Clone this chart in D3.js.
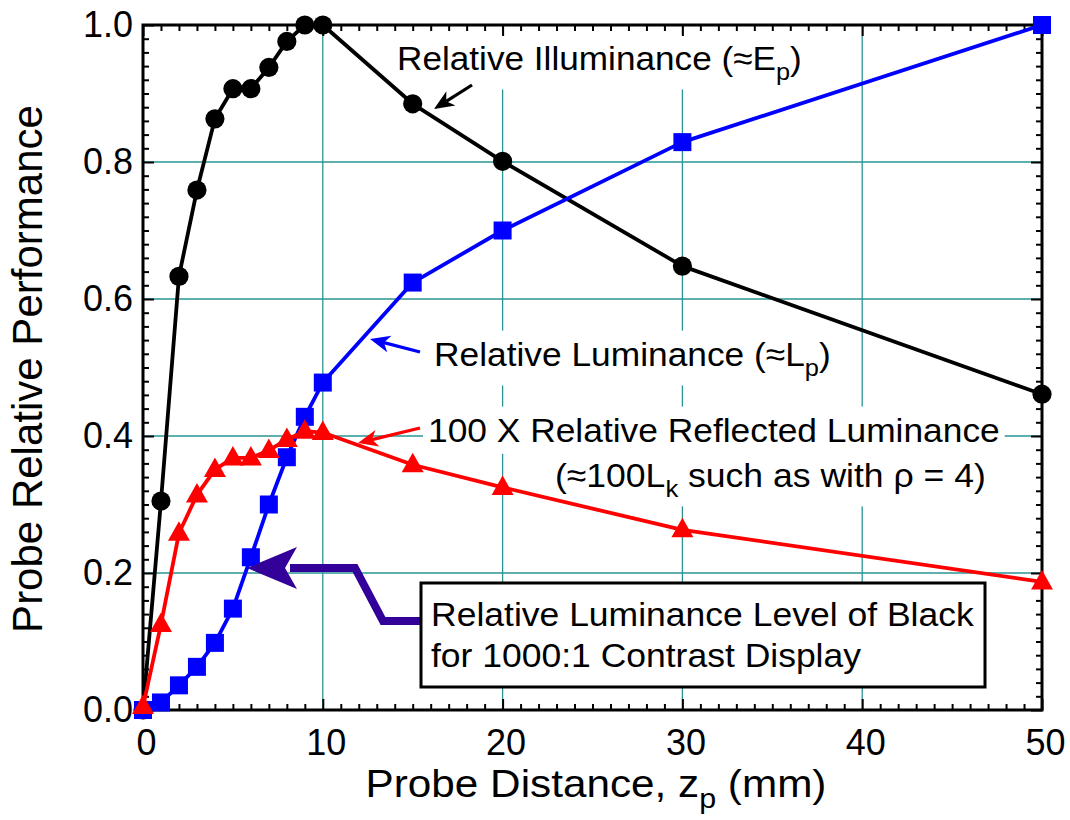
<!DOCTYPE html>
<html><head><meta charset="utf-8">
<script src="https://cdn.jsdelivr.net/npm/d3@7"></script>
<style>body{margin:0;background:#fff}</style>
</head><body>
<svg id="c" width="1070" height="820" xmlns="http://www.w3.org/2000/svg"></svg>
<script>
// ---------- data ----------
const distances   = [0, 1, 2, 3, 4, 5, 6, 7, 8, 9, 10, 15, 20, 30, 50];
const illuminance = [0, 0.305, 0.633, 0.759, 0.863, 0.907, 0.907, 0.938, 0.976, 1.0, 1.0, 0.885, 0.801, 0.648, 0.461];
const luminance   = [0, 0.011, 0.036, 0.063, 0.098, 0.148, 0.223, 0.300, 0.369, 0.428, 0.478, 0.624, 0.700, 0.829, 1.0];
const reflected   = [0.005, 0.125, 0.258, 0.314, 0.351, 0.368, 0.368, 0.379, 0.395, 0.407, 0.405, 0.358, 0.325, 0.263, 0.187];
const xTicks      = [0, 10, 20, 30, 40, 50];
const yTicks      = [0, 0.2, 0.4, 0.6, 0.8, 1.0];
const xGridVals   = [10, 20, 30, 40];
const yGridVals   = [0.2, 0.4, 0.6, 0.8];
const xMinor      = d3.range(0, 51).filter(d => d % 10 !== 0);
const yMinor      = d3.range(0, 51).filter(d => d % 10 !== 0).map(d => d / 50);

// ---------- setup ----------
const FONT = "'Liberation Sans', Arial, Helvetica, sans-serif";
const svg = d3.select('#c');
const L = 143, R = 1042, T = 25, B = 710;
const x = d3.scaleLinear().domain([0, 50]).range([L, R]);
const y = d3.scaleLinear().domain([0, 1]).range([B, T]);

const layerGrid = svg.append('g');
const layerBg = svg.append('g');
const layerAxes = svg.append('g');
const layerData = svg.append('g');
const layerText = svg.append('g');
const layerAnno = svg.append('g');

// grid
const gridColor = '#2a9494';
layerGrid.selectAll('.gx').data(xGridVals).join('line')
  .attr('x1', d => x(d)).attr('x2', d => x(d)).attr('y1', T).attr('y2', B)
  .attr('stroke', gridColor).attr('stroke-width', 1.3);
layerGrid.selectAll('.gy').data(yGridVals).join('line')
  .attr('y1', d => y(d)).attr('y2', d => y(d)).attr('x1', L).attr('x2', R)
  .attr('stroke', gridColor).attr('stroke-width', 1.3);

// text helper (fits to target width)
function addText(g, parts, o) {
  const t = g.append('text')
    .attr('font-family', FONT).attr('font-size', o.size).attr('fill', '#000')
    .attr('text-anchor', o.anchor || 'start');
  let pendingDy = 0;
  parts.forEach(p => {
    if (typeof p === 'string') {
      const ts = t.append('tspan').text(p);
      if (pendingDy) { ts.attr('dy', pendingDy); pendingDy = 0; }
    } else {
      t.append('tspan').attr('font-size', o.size * 0.72).attr('dy', o.size * 0.28).text(p.sub);
      pendingDy = -o.size * 0.28;
    }
  });
  const len = t.node().getComputedTextLength();
  const sx = o.width ? o.width / len : 1;
  const rot = o.rotate ? ` rotate(${o.rotate})` : '';
  t.attr('transform', `translate(${o.x},${o.y})${rot} scale(${sx},1)`);
  if (o.bg) {
    const bb = t.node().getBBox();
    const pad = o.pad || 5;
    layerBg.append('rect')
      .attr('x', o.x + bb.x * sx - pad).attr('y', o.y + bb.y - pad)
      .attr('width', bb.width * sx + 2 * pad).attr('height', bb.height + 2 * pad)
      .attr('fill', '#fff');
  }
  return t;
}

// ---------- axes ----------
function styleAxis(g) {
  g.select('.domain').remove();
  g.selectAll('line').attr('stroke', '#000').attr('stroke-width', 2);
  g.selectAll('text').attr('font-family', FONT).attr('fill', '#000');
}
const MAJ = 11, MIN = 6;
layerAxes.append('g').attr('transform', `translate(0,${B})`)
  .call(d3.axisBottom(x).tickValues(xTicks).tickSize(-MAJ).tickPadding(19).tickFormat(d3.format('d')))
  .call(styleAxis).call(g => g.selectAll('text').attr('font-size', 36).attr('dx', 3));
layerAxes.append('g').attr('transform', `translate(0,${B})`)
  .call(d3.axisBottom(x).tickValues(xMinor).tickSize(-MIN).tickFormat(''))
  .call(styleAxis);
layerAxes.append('g').attr('transform', `translate(0,${T})`)
  .call(d3.axisTop(x).tickValues(xTicks).tickSize(-MAJ).tickFormat(''))
  .call(styleAxis);
layerAxes.append('g').attr('transform', `translate(0,${T})`)
  .call(d3.axisTop(x).tickValues(xMinor).tickSize(-MIN).tickFormat(''))
  .call(styleAxis);
layerAxes.append('g').attr('transform', `translate(${L},0)`)
  .call(d3.axisLeft(y).tickValues(yTicks).tickSize(-MAJ).tickPadding(10).tickFormat(d3.format('.1f')))
  .call(styleAxis).call(g => g.selectAll('text').attr('font-size', 36));
layerAxes.append('g').attr('transform', `translate(${L},0)`)
  .call(d3.axisLeft(y).tickValues(yMinor).tickSize(-MIN).tickFormat(''))
  .call(styleAxis);
layerAxes.append('g').attr('transform', `translate(${R},0)`)
  .call(d3.axisRight(y).tickValues(yTicks).tickSize(-MAJ).tickFormat(''))
  .call(styleAxis);
layerAxes.append('g').attr('transform', `translate(${R},0)`)
  .call(d3.axisRight(y).tickValues(yMinor).tickSize(-MIN).tickFormat(''))
  .call(styleAxis);
layerAxes.append('rect').attr('x', L).attr('y', T).attr('width', R - L).attr('height', B - T)
  .attr('fill', 'none').attr('stroke', '#000').attr('stroke-width', 3);

// axis titles
addText(layerText, ['Probe Distance, z', {sub: 'p'}, ' (mm)'], {x: 596, y: 797, size: 38, width: 461, anchor: 'middle'});
addText(layerText, ['Probe Relative Performance'], {x: 42, y: 369, size: 42, width: 528, anchor: 'middle', rotate: -90});

// ---------- series ----------
const line = d3.line().x(d => x(d[0])).y(d => y(d[1]));
function series(vals, color) {
  const pts = distances.map((d, i) => [d, vals[i]]);
  layerData.append('path').datum(pts).attr('d', line)
    .attr('fill', 'none').attr('stroke', color).attr('stroke-width', 3.8).attr('stroke-linejoin', 'round');
  return pts;
}
const pI = series(illuminance, '#000');
layerData.selectAll('.ci').data(pI).join('circle')
  .attr('cx', d => x(d[0])).attr('cy', d => y(d[1])).attr('r', 9.6).attr('fill', '#000');
const pL = series(luminance, '#0000ff');
layerData.selectAll('.sq').data(pL).join('rect')
  .attr('x', d => x(d[0]) - 9).attr('y', d => y(d[1]) - 9).attr('width', 18).attr('height', 18).attr('fill', '#0000ff');
const pR = series(reflected, '#ff0000');
layerData.selectAll('.tr').data(pR).join('path')
  .attr('d', d => { const cx = x(d[0]), cy = y(d[1]); return `M${cx},${cy - 12}L${cx + 11},${cy + 7.5}L${cx - 11},${cy + 7.5}Z`; })
  .attr('fill', '#ff0000');

// ---------- annotations ----------
function arrow(x1, y1, x2, y2, color, w, hl, hw) {
  const a = Math.atan2(y2 - y1, x2 - x1);
  const ux = Math.cos(a), uy = Math.sin(a), px = -uy, py = ux;
  const bx = x2 - ux * hl, by = y2 - uy * hl;
  const nx = x2 - ux * hl * 0.72, ny = y2 - uy * hl * 0.72;
  layerAnno.append('line').attr('x1', x1).attr('y1', y1).attr('x2', nx).attr('y2', ny)
    .attr('stroke', color).attr('stroke-width', w);
  layerAnno.append('path')
    .attr('d', `M${x2},${y2}L${bx + px * hw},${by + py * hw}L${nx},${ny}L${bx - px * hw},${by - py * hw}Z`)
    .attr('fill', color);
}
addText(layerText, ['Relative Illuminance (\u2248E', {sub: 'p'}, ')'], {x: 397, y: 70, size: 34, width: 405, bg: true});
arrow(472, 85, 434, 109, '#000', 3.2, 20, 8.5);
addText(layerText, ['Relative Luminance (\u2248L', {sub: 'p'}, ')'], {x: 434, y: 366, size: 34, width: 397, bg: true});
arrow(420, 352, 370, 339, '#0000ff', 3.2, 20, 8.5);
addText(layerText, ['100 X Relative Reflected Luminance'], {x: 428, y: 442, size: 34, width: 572, bg: true});
addText(layerText, ['(\u2248100L', {sub: 'k'}, ' such as with \u03c1 = 4)'], {x: 555, y: 487, size: 34, width: 431, bg: true});
arrow(420, 428, 358, 443, '#ff0000', 3.2, 20, 8.5);

// purple arrow
const purple = '#330099';
layerAnno.append('path').attr('d', 'M422,621L383,621L355,568L290,568')
  .attr('fill', 'none').attr('stroke', purple).attr('stroke-width', 8).attr('stroke-linejoin', 'miter');
layerAnno.append('path').attr('d', 'M247,568L297,547L285,568L297,589Z').attr('fill', purple);

// box
layerAnno.append('rect').attr('x', 421).attr('y', 583).attr('width', 564).attr('height', 104)
  .attr('fill', '#fff').attr('stroke', '#000').attr('stroke-width', 3);
addText(layerAnno, ['Relative Luminance Level of Black'], {x: 431, y: 626, size: 34, width: 543});
addText(layerAnno, ['for 1000:1 Contrast Display'], {x: 431, y: 667, size: 34, width: 430});
</script>
</body></html>
